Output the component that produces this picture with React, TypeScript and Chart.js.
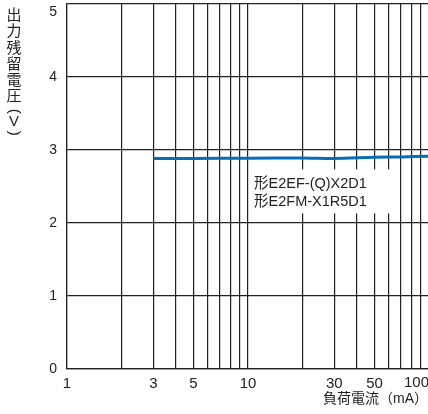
import React, { useEffect, useRef } from "react";
import { Chart, registerables } from "chart.js";

Chart.register(...registerables);

const loadCurrent = [3, 5, 10, 20, 30, 50, 70, 100];
const residualVoltage = [2.885, 2.885, 2.887, 2.89, 2.884, 2.9, 2.905, 2.915];
const xGridValues = [1, 2, 3, 4, 5, 6, 7, 8, 9, 10, 20, 30, 40, 50, 60, 70, 80, 90, 100];
const xTickLabels = [1, 3, 5, 10, 30, 50, 100];
const yTicks = [0, 1, 2, 3, 4, 5];
const seriesLabels = ["形E2EF-(Q)X2D1", "形E2FM-X1R5D1"];
const yTitle = "出力残留電圧（V）";
const xTitle = "負荷電流（mA）";

const FONT = "'Liberation Sans', 'Noto Sans CJK JP', sans-serif";
const INK = "#222";
const Y_MAX = yTicks[yTicks.length - 1];
const X_MAX = xTickLabels[xTickLabels.length - 1];

const textPlugin = {
  id: "texts",
  afterDraw(chart: any) {
    const ctx = chart.ctx;
    const xs = chart.scales.x;
    const ys = chart.scales.y;
    ctx.save();
    // edge tick labels nudged inside the frame
    ctx.fillStyle = INK;
    ctx.font = `14px ${FONT}`;
    ctx.textAlign = "right";
    ctx.textBaseline = "middle";
    ctx.fillText(String(Y_MAX), ys.right - 10, ys.getPixelForValue(Y_MAX) + 8);
    ctx.font = `15px ${FONT}`;
    ctx.textAlign = "left";
    ctx.textBaseline = "top";
    ctx.fillText(String(X_MAX), xs.getPixelForValue(X_MAX) - 25, xs.top + 6);

    // annotation with white background
    const ax = xs.getPixelForValue(10.8);
    const ay = ys.getPixelForValue(2.53);
    ctx.fillStyle = "#fff";
    ctx.fillRect(ax - 4, ay - 15, 140, 44);
    ctx.fillStyle = INK;
    ctx.font = `14.5px ${FONT}`;
    ctx.textAlign = "left";
    ctx.textBaseline = "middle";
    seriesLabels.forEach((t, i) => ctx.fillText(t, ax, ay + i * 17.5));

    // x title
    ctx.font = `14px ${FONT}`;
    ctx.textAlign = "right";
    ctx.textBaseline = "middle";
    ctx.fillText(xTitle, 428, 399);

    // y title (vertical)
    ctx.textAlign = "center";
    ctx.textBaseline = "middle";
    ctx.font = `15px ${FONT}`;
    let y = 16;
    const cx = 14;
    for (const ch of Array.from(yTitle)) {
      if (ch === "（" || ch === "）") {
        const py = ch === "（" ? y - 2 : y - 1;
        ctx.save();
        ctx.translate(cx, py);
        ctx.rotate(Math.PI / 2);
        ctx.fillText(ch === "（" ? "(" : ")", 0, 0);
        ctx.restore();
        y += ch === "（" ? 10 : 11;
      } else if (ch === "V") {
        ctx.fillText(ch, cx, y - 1);
        y += 11;
      } else {
        ctx.fillText(ch, cx, y);
        y += 16.2;
      }
    }
    ctx.restore();
  },
};

export default function App() {
  const ref = useRef<HTMLCanvasElement | null>(null);
  useEffect(() => {
    if (!ref.current) return;
    const chart = new Chart(ref.current, {
      type: "line",
      data: {
        datasets: [
          {
            data: loadCurrent.map((x, i) => ({ x, y: residualVoltage[i] })),
            borderColor: "#0a6cb6",
            borderWidth: 3,
            pointRadius: 0,
            tension: 0.3,
            fill: false,
          },
        ],
      },
      options: {
        responsive: false,
        animation: false,
        layout: { padding: { top: 4, right: 11, left: 0, bottom: 0 } },
        plugins: { legend: { display: false }, tooltip: { enabled: false } },
        scales: {
          x: {
            type: "logarithmic",
            min: 1,
            max: 100,
            afterBuildTicks: (s: any) => {
              s.ticks = xGridValues.map((v) => ({ value: v }));
            },
            afterFit: (s: any) => {
              s.height = 45;
              s.paddingLeft = 0;
              s.paddingRight = 0;
            },
            ticks: {
              autoSkip: false,
              maxRotation: 0,
              padding: 6,
              color: INK,
              font: { size: 15, family: FONT },
              callback: (v: any) =>
                xTickLabels.includes(Number(v)) && Number(v) !== X_MAX ? String(v) : "",
            },
            grid: { color: INK, lineWidth: 1.2, drawTicks: false },
            border: { display: true, color: INK, width: 1.2 },
          },
          y: {
            type: "linear",
            min: 0,
            max: 5,
            afterBuildTicks: (s: any) => {
              s.ticks = yTicks.map((v) => ({ value: v }));
            },
            afterFit: (s: any) => {
              s.width = 67;
              s.paddingTop = 0;
              s.paddingBottom = 0;
            },
            ticks: {
              padding: 10,
              color: INK,
              font: { size: 14, family: FONT },
              callback: (v: any) => (Number(v) === Y_MAX ? "" : String(v)),
            },
            grid: { color: INK, lineWidth: 1.2, drawTicks: false },
            border: { display: true, color: INK, width: 1.2 },
          },
        },
      },
      plugins: [textPlugin],
    });
    return () => chart.destroy();
  }, []);
  return (
    <div
      style={{
        position: "absolute",
        left: 0,
        top: 0,
        width: 428,
        height: 414,
        overflow: "hidden",
        background: "#fff",
      }}
    >
      <canvas ref={ref} width={440} height={414} />
    </div>
  );
}
